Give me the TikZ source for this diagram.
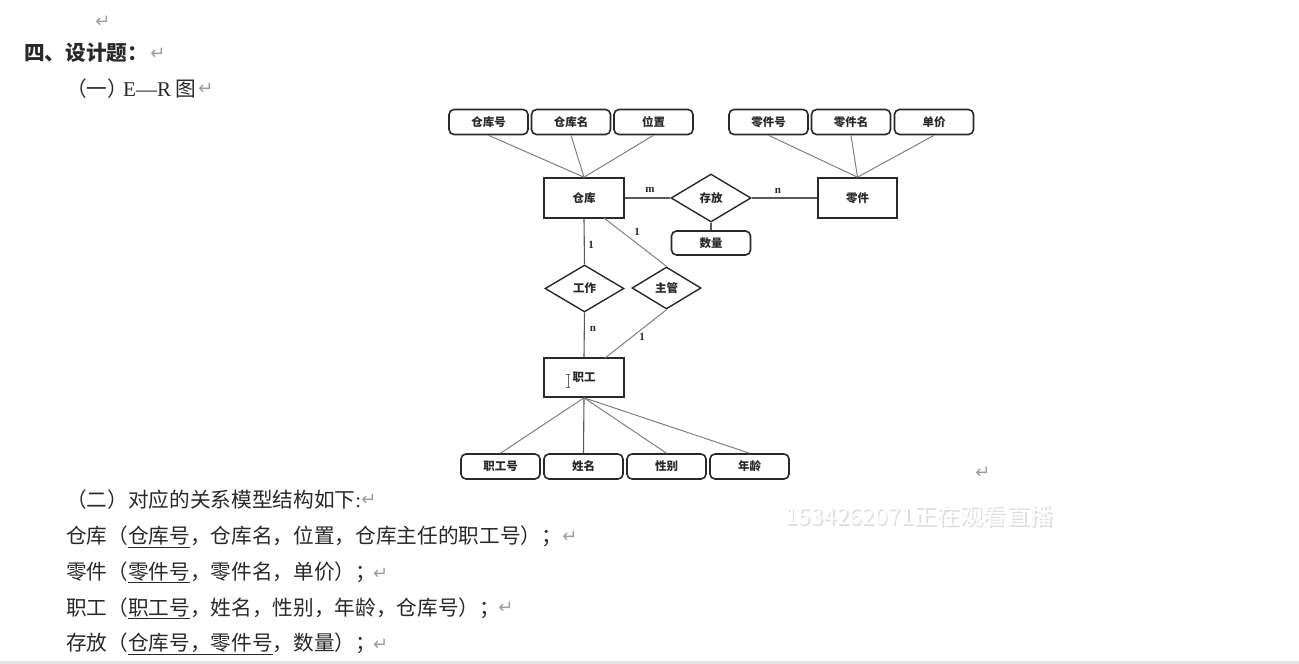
\documentclass[tikz,border=0pt]{standalone}
\usepackage{fontspec}
\setmainfont{Noto Sans CJK SC}
\newfontfamily\latinf{Liberation Serif}
\newfontfamily\arrowf{DejaVu Sans}
\usetikzlibrary{shapes.geometric,calc}
\definecolor{ink}{gray}{0.16}
\definecolor{edgeg}{gray}{0.5}
\newcommand{\inlineret}{{\arrowf\fontsize{18}{19}\selectfont\color{black!38}↵}}
\tikzset{
 x=1pt,y=-1pt,
 rowtext/.style={anchor=west,inner sep=0pt,font=\fontsize{20.66}{22}\selectfont,text=ink},
 retmark/.style={inner sep=0pt,font=\arrowf\fontsize{18}{19}\selectfont,text=black!38},
 entity/.style={draw=ink,line width=1.6pt,minimum width=80pt,minimum height=40pt,inner sep=0pt,font=\bfseries\fontsize{11.5}{12}\selectfont,text=ink},
 attrib/.style={draw=ink,line width=1.6pt,rounded corners=5pt,minimum width=79pt,minimum height=25pt,inner sep=0pt,font=\bfseries\fontsize{11.5}{12}\selectfont,text=ink},
 relation/.style={draw=ink,line width=1.4pt,diamond,aspect=1.67,inner sep=0pt,font=\bfseries\fontsize{11.5}{12}\selectfont,text=ink},
 dark/.style={draw=black!65,line width=1.1pt},
 soft/.style={draw=edgeg,line width=1pt},
 card/.style={inner sep=0pt,font=\latinf\bfseries\fontsize{11}{12}\selectfont,text=ink},
}
\begin{document}
\begin{tikzpicture}
\useasboundingbox (0,0) rectangle (1299,664);
\fill[white] (0,0) rectangle (1299,664);
\fill[black!10] (0,661) rectangle (1299,664);

% document text
\node[retmark] (r0) at (103,22) {↵};
\node[rowtext,font=\bfseries\fontsize{20.66}{22}\selectfont] (h1) at (24,53) {四、设计题：};
\node[retmark] (r1) at (158,54) {↵};
\node[rowtext] (h2) at (66,89) {（一）\hspace{-5pt}{\latinf\fontsize{21}{22}\selectfont E—R} 图};
\node[retmark] (r2) at (206,89) {↵};
\node[rowtext] (t0) at (66,500) {（二）对应的关系模型结构如下{\latinf :}};
\node[retmark] (r3) at (369,500) {↵};
\node[rowtext] (t1) at (66,537) {仓库（\underline{仓库号}，仓库名，位置，仓库主任的职工号）；};
\node[retmark] (r4) at (570,537) {↵};
\node[rowtext] (t2) at (66,572.5) {零件（\underline{零件号}，零件名，单价）；\hspace{-3pt}\inlineret};
\node[rowtext] (t3) at (66,608) {职工（\underline{职工号}，姓名，性别，年龄，仓库号）；};
\node[retmark] (r6) at (506,608) {↵};
\node[rowtext] (t4) at (66,644) {存放（\underline{仓库号，零件号}，数量）；\hspace{-3pt}\inlineret};
\node[retmark] (r8) at (983,473) {↵};

% watermark
\node[inner sep=0pt,font=\fontsize{23.2}{25}\selectfont,text=black!13] (wm0) at (920.5,517.5) {1534262071正在观看直播};
\node[inner sep=0pt,font=\fontsize{23.2}{25}\selectfont,text=white] (wm) at (919,516) {1534262071正在观看直播};

% attributes
\node[attrib] (a1) at (488.5,122) {仓库号};
\node[attrib] (a2) at (571,122) {仓库名};
\node[attrib] (a3) at (653.5,122) {位置};
\node[attrib] (b1) at (768.5,122) {零件号};
\node[attrib] (b2) at (851,122) {零件名};
\node[attrib] (b3) at (934,122) {单价};
\node[attrib,minimum height=24pt] (qty) at (711,243) {数量};
\node[attrib] (c1) at (500.5,466.5) {职工号};
\node[attrib] (c2) at (583.5,466.5) {姓名};
\node[attrib] (c3) at (666.5,466.5) {性别};
\node[attrib] (c4) at (749.5,466.5) {年龄};

% entities
\node[entity] (wh) at (584,198) {仓库};
\node[entity,minimum width=79pt] (part) at (857.5,198) {零件};
\node[entity,minimum height=39pt] (emp) at (584,377.5) {职工};

% relations
\node[relation,minimum width=80pt,minimum height=48pt] (store) at (711,198) {存放};
\node[relation,minimum width=79pt,minimum height=47pt] (work) at (584.5,288.5) {工作};
\node[relation,minimum width=69pt,minimum height=42pt] (mgr) at (666.5,288) {主管};

% anchor points on the manager lines
\coordinate (whm) at (604,218);
\coordinate (empm) at (605,358);

% connectors
\draw[soft] (a1.south) -- (wh.north);
\draw[soft] (a2.south) -- (wh.north);
\draw[soft] (a3.south) -- (wh.north);
\draw[soft] (b1.south) -- (part.north);
\draw[soft] (b2.south) -- (part.north);
\draw[soft] (b3.south) -- (part.north);
\draw[dark] (wh.east) -- (store.west);
\draw[dark] (store.east) -- (part.west);
\draw[dark] (store.south) -- (qty.north);
\draw[dark] (wh.south) -- (work.north);
\draw[dark] (work.south) -- (emp.north);
\draw[soft] (whm) -- (mgr.north);
\draw[soft] (mgr.south) -- (empm);
\draw[soft] (emp.south) -- (c1.north);
\draw[dark] (emp.south) -- (c2.north);
\draw[soft] (emp.south) -- (c3.north);
\draw[soft] (emp.south) -- (c4.north);

% cardinalities
\node[card] (m1) at (650,190) {m};
\node[card] (n1) at (778,190.5) {n};
\node[card] (o1) at (591,245) {1};
\node[card] (o2) at (637,232) {1};
\node[card] (n2) at (593,329) {n};
\node[card] (o3) at (642,337) {1};

% text cursor
\draw[black!60,line width=0.8pt] (568,374) -- (568,387) (566,374) -- (570,374) (566,387) -- (570,387);
\end{tikzpicture}
\end{document}
